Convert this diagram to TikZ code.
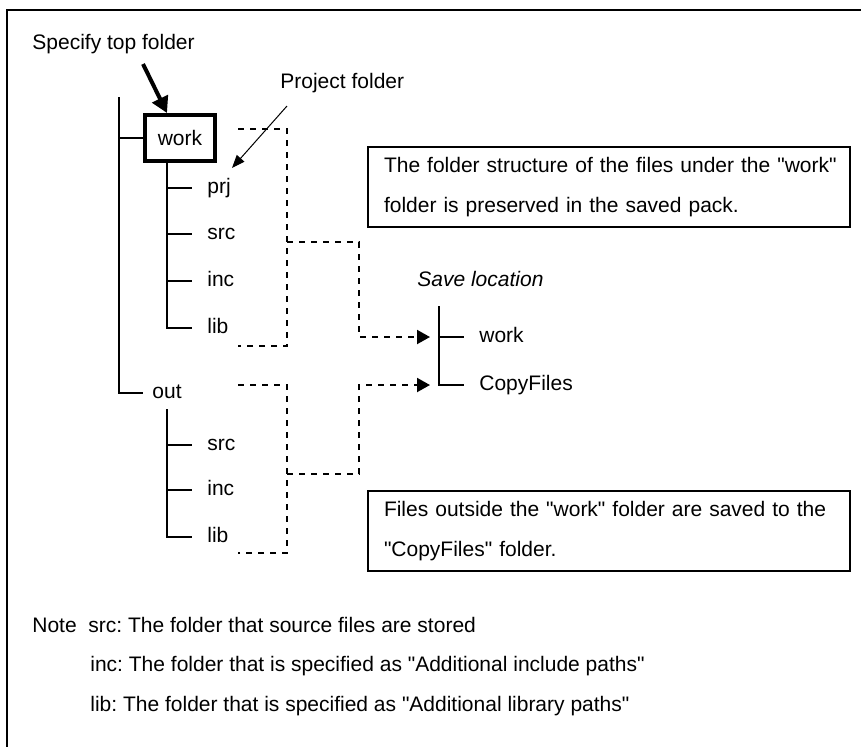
\documentclass[tikz,border=0pt]{standalone}
\usepackage{fontspec}
\setmainfont{Liberation Sans}[Ligatures=TeXOff]
\frenchspacing
\usetikzlibrary{arrows.meta}
\tikzset{
  txt/.style={inner sep=0pt, anchor=mid west},
  tree/.style={line width=1pt},
  link/.style={line width=1pt, dash pattern=on 3pt off 3pt},
  remark/.style={draw, line width=1pt, anchor=north west, align=left,
    text width=225pt, inner xsep=8pt, minimum height=40pt,
    font=\fontsize{10.5}{20}\selectfont}
}
\begin{document}
\begin{tikzpicture}[x=0.5pt,y=-0.5pt,font=\fontsize{10.5}{12.6}\selectfont,
  >={Triangle[length=6.5pt,width=7pt]}]
\useasboundingbox (0,0) rectangle (861,746);
\draw[line width=1.2pt] (7,760) -- (7,10) -- (875,10);

% labels
\node[txt] (spec) at (32,44) {Specify top folder};
\node[txt] (proj) at (280,83) {Project folder};
\node[draw, line width=2pt, minimum width=35pt, minimum height=23pt, inner sep=0pt] (work) at (180,138) {work};
\foreach \nm/\y in {prj/188,src/234,inc/281,lib/328}
  \node[txt] (w\nm) at (207,\y) {\nm};
\node[txt] (out) at (152,393) {out};
\foreach \nm/\y in {src/445,inc/490,lib/537}
  \node[txt] (o\nm) at (207,\y) {\nm};
\node[txt, font=\fontsize{10.5}{12.6}\selectfont\itshape] (saveat) at (417,281) {Save location};
\node[txt] (swork) at (479,337) {work};
\node[txt] (scopy) at (479,385) {CopyFiles};

\node[remark] (keep) at (367,146) {\mbox{The folder structure of the files under the "work"}\\\mbox{folder is preserved in the saved pack.}};
\node[remark] (copy) at (367,490) {\mbox{Files outside the "work" folder are saved to the}\\\mbox{"CopyFiles" folder.}};

\node[txt] (nt) at (32,627.5) {Note};
\node[txt] (nsrc) at (88,627.5) {src: The folder that source files are stored};
\node[txt] (ninc) at (90,666.5) {inc: The folder that is specified as "Additional include paths"};
\node[txt] (nlib) at (90,706.5) {lib: The folder that is specified as "Additional library paths"};

% trees
\coordinate (root) at (119,97);
\draw[tree] (root) |- (work.west);
\draw[tree] (root) |- ([xshift=-4.5pt]out.mid west);
\coordinate (wk) at ([xshift=-6.5pt]work.south);
\foreach \nm in {prj,src,inc}
  \draw[tree] (wk |- w\nm.mid west) -- ([xshift=-7.5pt]w\nm.mid west);
\draw[tree] (wk) |- ([xshift=-7.5pt]wlib.mid west);
\coordinate (ok) at (167,409);
\foreach \nm in {src,inc}
  \draw[tree] (ok |- o\nm.mid west) -- ([xshift=-7.5pt]o\nm.mid west);
\draw[tree] (ok) |- ([xshift=-7.5pt]olib.mid west);
\coordinate (sk) at (439,306);
\draw[tree] (sk |- swork.mid west) -- ([xshift=-7.5pt]swork.mid west);
\draw[tree] (sk) |- ([xshift=-7.5pt]scopy.mid west);

% dashed groups
\draw[link] (238,129) -- (287,129) -- (287,346) -- (238,346);
\draw[link,->] (287,242) -| (359,337) -- ([xshift=-4.5pt]sk |- swork.mid west);
\draw[link] (238,385) -- (287,385) -- (287,553) -- (238,553);
\draw[link,->] (287,474) -| (359,385) -- ([xshift=-4.5pt]sk |- scopy.mid west);

% pointers
\coordinate (sfrom) at (143,64);
\draw[line width=2pt,-{Triangle[length=8pt,width=8.5pt]}] (sfrom) -- ([xshift=-6.5pt]work.north);
\coordinate (pfrom) at (287,106);
\coordinate (pto) at (232,168);
\draw[line width=0.5pt,-{Triangle[length=6.5pt,width=5pt]}] (pfrom) -- (pto);
\end{tikzpicture}
\end{document}
